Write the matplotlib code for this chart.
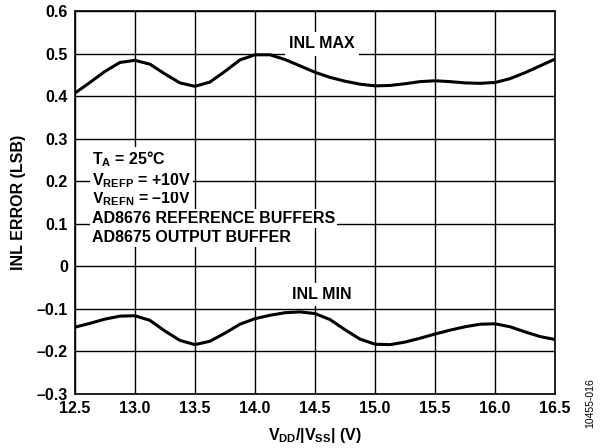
import numpy as np
import matplotlib
matplotlib.use('Agg')
import matplotlib.pyplot as plt

plt.rcParams['font.family'] = 'Liberation Sans'
plt.rcParams['font.weight'] = 'bold'
plt.rcParams['axes.labelweight'] = 'bold'
plt.rcParams['mathtext.fontset'] = 'custom'
plt.rcParams['mathtext.rm'] = 'Liberation Sans:bold'
plt.rcParams['mathtext.it'] = 'Liberation Sans:bold'
plt.rcParams['mathtext.bf'] = 'Liberation Sans:bold'

# supply voltage, V (every 0.125 V)
vdd = [12.5, 12.625, 12.75, 12.875, 13.0, 13.125, 13.25, 13.375, 13.5,
       13.625, 13.75, 13.875, 14.0, 14.125, 14.25, 14.375, 14.5,
       14.625, 14.75, 14.875, 15.0, 15.125, 15.25, 15.375, 15.5,
       15.625, 15.75, 15.875, 16.0, 16.125, 16.25, 16.375, 16.5]

inl_max = [0.407, 0.432, 0.458, 0.479, 0.484, 0.475, 0.452, 0.431, 0.423,
           0.433, 0.458, 0.485, 0.497, 0.497, 0.486, 0.471, 0.456,
           0.444, 0.435, 0.428, 0.424, 0.425, 0.429, 0.434, 0.436,
           0.434, 0.431, 0.430, 0.432, 0.441, 0.455, 0.471, 0.487]

inl_min = [-0.143, -0.134, -0.124, -0.117, -0.116, -0.127, -0.152, -0.174, -0.184,
           -0.176, -0.157, -0.136, -0.123, -0.115, -0.109, -0.107, -0.111,
           -0.125, -0.149, -0.171, -0.183, -0.184, -0.178, -0.169, -0.159,
           -0.150, -0.142, -0.136, -0.135, -0.142, -0.154, -0.165, -0.172]

xticks = [12.5, 13.0, 13.5, 14.0, 14.5, 15.0, 15.5, 16.0, 16.5]
yticks = [-0.3, -0.2, -0.1, 0, 0.1, 0.2, 0.3, 0.4, 0.5, 0.6]
ylabels = ['–0.3', '–0.2', '–0.1', '0', '0.1', '0.2', '0.3', '0.4', '0.5', '0.6']

notes = ['$T_A$ = 25°C',
         '$V_{REFP}$ = +10V',
         '$V_{REFN}$ = –10V',
         'AD8676 REFERENCE BUFFERS',
         'AD8675 OUTPUT BUFFER']
notes_y = [0.240, 0.190, 0.148, 0.101, 0.0566]

fig = plt.figure(figsize=(6.04, 4.48), dpi=100)
ax = fig.add_axes([0.124, 0.1205, 0.795, 0.855])

ax.plot(vdd, inl_max, color='black', lw=2.2, zorder=3, solid_joinstyle='round')
ax.plot(vdd, inl_min, color='black', lw=2.2, zorder=3, solid_joinstyle='round')

ax.set_xlim(12.5, 16.5)
ax.set_ylim(-0.3, 0.6)
ax.set_xticks(xticks)
ax.set_xticklabels(['%.1f' % v for v in xticks])
ax.set_yticks(yticks)
ax.set_yticklabels(ylabels)
ax.tick_params(length=0, labelsize=11.5, pad=5)
ax.grid(True, color='black', lw=1.0, zorder=1)
ax.set_axisbelow(True)
for s in ax.spines.values():
    s.set_linewidth(1.2)

ax.set_xlabel('$V_{DD}$/|$V_{SS}$| (V)', fontsize=11.5, labelpad=7)
ax.set_ylabel('INL ERROR (LSB)', fontsize=11.5, labelpad=8)

box = dict(facecolor='white', edgecolor='none', pad=3)
ax.text(14.56, 0.5225, 'INL MAX', ha='center', va='center', fontsize=11.5,
        bbox=box, zorder=4)
ax.text(14.56, -0.0667, 'INL MIN', ha='center', va='center', fontsize=11.5,
        bbox=box, zorder=4)
# earlier lines sit on top so their subscripts are not hidden
for i, (txt, yy) in enumerate(zip(notes, notes_y)):
    ax.text(12.64, yy, txt, ha='left', va='baseline', fontsize=11.5,
            bbox=dict(facecolor='white', edgecolor='none', pad=1.5),
            zorder=10 - i)

fig.text(0.977, 0.1, '10455-016', rotation=90, ha='center', va='center',
         fontsize=7.5, weight='normal')

fig.savefig('out.png', dpi=100)
